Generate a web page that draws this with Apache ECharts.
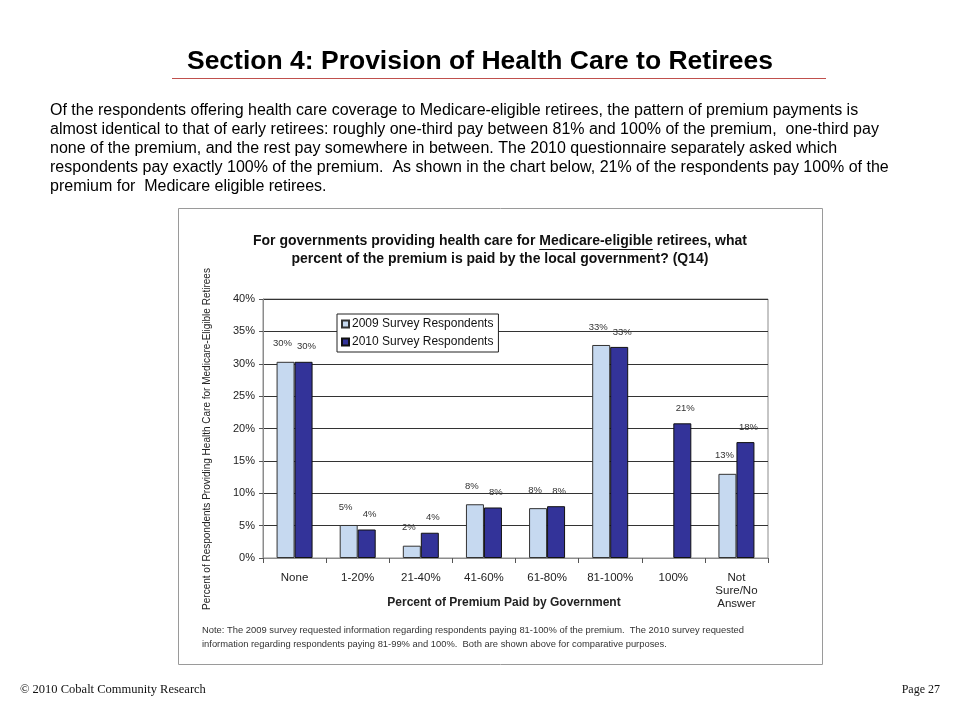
<!DOCTYPE html>
<html>
<head>
<meta charset="utf-8">
<script src="https://cdn.jsdelivr.net/npm/echarts@6/dist/echarts.min.js"></script>
<style>html,body{margin:0;padding:0;background:#fff}#c{width:960px;height:720px}</style>
</head>
<body>
<div id="c"></div>
<script>
var categories = ['None', '1-20%', '21-40%', '41-60%', '61-80%', '81-100%', '100%', 'Not\nSure/No\nAnswer'];
var values2009 = [30.3, 5.1, 1.9, 8.3, 7.7, 32.9, null, 13.0];
var values2010 = [30.3, 4.4, 3.9, 7.8, 8.0, 32.6, 20.8, 17.9];
var labels2009 = ['30%', '5%', '2%', '8%', '8%', '33%', '', '13%'];
var labels2010 = ['30%', '4%', '4%', '8%', '8%', '33%', '21%', '18%'];
var yTicks = [0, 5, 10, 15, 20, 25, 30, 35, 40];

var heading = 'Section 4: Provision of Health Care to Retirees';
var paragraph = [
  'Of the respondents offering health care coverage to Medicare-eligible retirees, the pattern of premium payments is',
  'almost identical to that of early retirees: roughly one-third pay between 81% and 100% of the premium,  one-third pay',
  'none of the premium, and the rest pay somewhere in between. The 2010 questionnaire separately asked which',
  'respondents pay exactly 100% of the premium.  As shown in the chart below, 21% of the respondents pay 100% of the',
  'premium for  Medicare eligible retirees.'
];
var titlePre = 'For governments providing health care for ';
var titleWord = 'Medicare-eligible';
var titlePost = ' retirees, what';
var titleLine2 = 'percent of the premium is paid by the local government? (Q14)';
var yName = 'Percent of Respondents Providing Health Care for Medicare-Eligible Retirees';
var xName = 'Percent of Premium Paid by Government';
var noteLines = [
  'Note: The 2009 survey requested information regarding respondents paying 81-100% of the premium.  The 2010 survey requested',
  'information regarding respondents paying 81-99% and 100%.  Both are shown above for comparative purposes.'
];
var footerLeft = '\u00a9 2010 Cobalt Community Research';
var footerRight = 'Page 27';

var chart = echarts.init(document.getElementById('c'));

var titleFont = 'bold 14px Arial';
var cv = document.createElement('canvas').getContext('2d');
cv.font = titleFont;
var wPre = cv.measureText(titlePre).width;
var wWord = cv.measureText(titleWord).width;
var wAll = cv.measureText(titlePre + titleWord + titlePost).width;
var tcx = 500;
var uStart = tcx - wAll / 2 + wPre;

var serif = '"Liberation Serif", "DejaVu Serif", serif';
var graphics = [
  {type: 'rect', shape: {x: 178.5, y: 208.5, width: 644, height: 456}, style: {fill: 'none', stroke: '#9a9a9a', lineWidth: 1}, z: 0},
  {type: 'text', x: 480, y: 62, style: {text: heading, font: 'bold 26.5px Arial', fill: '#000', align: 'center', verticalAlign: 'middle'}},
  {type: 'line', shape: {x1: 172, y1: 78.5, x2: 826, y2: 78.5}, style: {stroke: '#c0504d', lineWidth: 1}},
  {type: 'text', x: tcx, y: 241, style: {text: titlePre + titleWord + titlePost, font: titleFont, fill: '#111', align: 'center', verticalAlign: 'middle'}},
  {type: 'line', shape: {x1: uStart, y1: 249.5, x2: uStart + wWord, y2: 249.5}, style: {stroke: '#111', lineWidth: 1}},
  {type: 'text', x: tcx, y: 259, style: {text: titleLine2, font: titleFont, fill: '#111', align: 'center', verticalAlign: 'middle'}},
  {type: 'text', x: 207, y: 439, rotation: Math.PI / 2, style: {text: yName, font: '10px Arial', fill: '#222', align: 'center', verticalAlign: 'middle'}},
  {type: 'text', x: 504, y: 603, style: {text: xName, font: 'bold 12px Arial', fill: '#222', align: 'center', verticalAlign: 'middle'}},
  {type: 'text', x: 20, y: 690, style: {text: footerLeft, font: '12.5px ' + serif, fill: '#111', align: 'left', verticalAlign: 'middle'}},
  {type: 'text', x: 940, y: 690, style: {text: footerRight, font: '12px ' + serif, fill: '#111', align: 'right', verticalAlign: 'middle'}}
];
paragraph.forEach(function (t, i) {
  graphics.push({type: 'text', x: 50, y: 111 + i * 19, style: {text: t, font: '16px Arial', fill: '#000', align: 'left', verticalAlign: 'middle'}});
});
noteLines.forEach(function (t, i) {
  graphics.push({type: 'text', x: 202, y: 630 + i * 14, style: {text: t, font: '9.4px Arial', fill: '#333', align: 'left', verticalAlign: 'middle'}});
});

chart.setOption({
  animation: false,
  backgroundColor: '#fff',
  textStyle: {fontFamily: 'Arial'},
  grid: {left: 263, right: 192, top: 299, bottom: 162, show: true, borderColor: '#8c8c8c', borderWidth: 1, backgroundColor: '#fff', containLabel: false},
  legend: {
    orient: 'vertical', left: 337, top: 314, padding: [4, 5, 4, 4],
    borderColor: '#222', borderWidth: 1, backgroundColor: '#fff',
    itemWidth: 7, itemHeight: 7, itemGap: 6, icon: 'rect',
    textStyle: {fontSize: 12, color: '#111', padding: [0, 0, 0, -2]},
    data: ['2009 Survey Respondents', '2010 Survey Respondents']
  },
  xAxis: {
    type: 'category', data: categories,
    axisLine: {lineStyle: {color: '#8c8c8c'}},
    axisTick: {show: true, length: 5, lineStyle: {color: '#555'}},
    axisLabel: {fontSize: 11.5, color: '#222', margin: 13, lineHeight: 13, interval: 0}
  },
  yAxis: {
    type: 'value', min: 0, max: 40, interval: 5,
    axisLine: {show: true, lineStyle: {color: '#8c8c8c'}},
    axisTick: {show: true, length: 4, lineStyle: {color: '#555'}},
    axisLabel: {fontSize: 11, color: '#222', margin: 8, formatter: function (v) { return yTicks.indexOf(v) >= 0 ? v + '%' : ''; }},
    splitLine: {show: true, lineStyle: {color: '#333', width: 1}}
  },
  series: [
    {
      name: '2009 Survey Respondents', type: 'bar', data: values2009,
      barWidth: 18, barGap: '0%',
      itemStyle: {color: '#c6d9f0', borderColor: '#333', borderWidth: 1},
      label: {show: true, position: 'top', distance: 13, offset: [-3, 0], fontSize: 9.5, color: '#333',
        formatter: function (p) { return labels2009[p.dataIndex]; }}
    },
    {
      name: '2010 Survey Respondents', type: 'bar', data: values2010,
      barWidth: 18, barGap: '0%',
      itemStyle: {color: '#333399', borderColor: '#111', borderWidth: 1},
      label: {show: true, position: 'top', distance: 10, offset: [3, 0], fontSize: 9.5, color: '#333',
        formatter: function (p) { return labels2010[p.dataIndex]; }}
    }
  ],
  graphic: graphics
});
</script>
</body>
</html>
